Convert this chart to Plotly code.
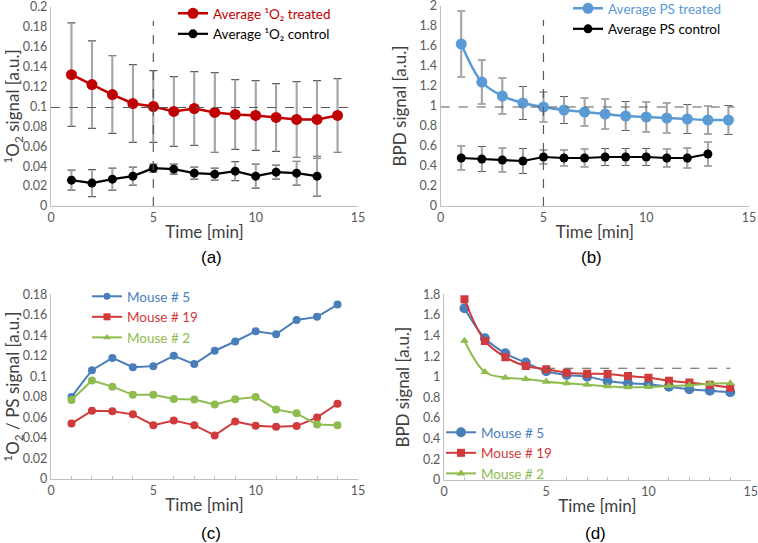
import plotly.graph_objects as go

# ---------------- data ----------------
time_a = list(range(1, 15))
o2_treated = [0.132, 0.122, 0.112, 0.103, 0.100, 0.095, 0.098, 0.094, 0.092, 0.091, 0.089, 0.087, 0.087, 0.091]
o2_treated_err = [0.052, 0.044, 0.039, 0.039, 0.036, 0.035, 0.037, 0.040, 0.035, 0.035, 0.034, 0.038, 0.039, 0.037]
time_ctrl = list(range(1, 14))
o2_control = [0.026, 0.023, 0.027, 0.030, 0.038, 0.037, 0.033, 0.032, 0.035, 0.030, 0.034, 0.033, 0.030]
o2_control_err = [0.010, 0.0135, 0.011, 0.009, 0.004, 0.005, 0.006, 0.006, 0.0095, 0.012, 0.007, 0.012, 0.020]

ps_treated = [1.62, 1.24, 1.10, 1.03, 0.99, 0.96, 0.94, 0.92, 0.90, 0.89, 0.88, 0.87, 0.86, 0.86]
ps_treated_err = [0.33, 0.22, 0.18, 0.165, 0.15, 0.135, 0.14, 0.15, 0.145, 0.15, 0.15, 0.145, 0.14, 0.145]
ps_control = [0.48, 0.47, 0.46, 0.45, 0.49, 0.48, 0.48, 0.49, 0.49, 0.49, 0.48, 0.48, 0.52]
ps_control_err = [0.12, 0.125, 0.12, 0.125, 0.07, 0.08, 0.09, 0.085, 0.085, 0.085, 0.09, 0.10, 0.12]

ratio_m5 = [0.080, 0.106, 0.118, 0.109, 0.110, 0.120, 0.112, 0.125, 0.134, 0.144, 0.141, 0.155, 0.158, 0.170]
ratio_m19 = [0.054, 0.0665, 0.066, 0.063, 0.0525, 0.057, 0.0525, 0.0425, 0.056, 0.052, 0.051, 0.0516, 0.060, 0.0733]
ratio_m2 = [0.077, 0.096, 0.090, 0.082, 0.082, 0.078, 0.0775, 0.0727, 0.0778, 0.080, 0.0678, 0.064, 0.053, 0.0525]

bpd_m5 = [1.665, 1.374, 1.228, 1.138, 1.054, 1.018, 1.002, 0.960, 0.937, 0.928, 0.905, 0.879, 0.866, 0.850]
bpd_m19 = [1.752, 1.348, 1.190, 1.105, 1.073, 1.040, 1.031, 1.028, 1.008, 0.992, 0.963, 0.944, 0.924, 0.895]
bpd_m2 = [1.350, 1.047, 0.992, 0.980, 0.953, 0.937, 0.924, 0.908, 0.898, 0.902, 0.911, 0.918, 0.934, 0.937]

# reference (dashed) lines
ref_a_h, ref_a_x1, ref_a_vx, ref_a_vy1 = 0.099, 14.72, 5, 0.186
ref_b_h, ref_b_x1, ref_b_vx, ref_b_vy1 = 0.99, 14.3, 5, 1.86
ref_d_h, ref_d_x0, ref_d_x1 = 1.083, 5, 14

# ---------------- style ----------------
FONT = "Lato"
TICK = dict(size=12.5, color="#595959", family=FONT)
TITLE = dict(size=17, color="#404040", family=FONT)
AXC = "#bfbfbf"
ERR_DARK = "#595959"
ERR_GRAY = "#a6a6a6"

fig = go.Figure()


def add_err(x, y, err, xa, ya):
    # dark thin bar with caps, then gray thicker stem over it
    fig.add_trace(go.Scatter(x=x, y=y, mode="markers", marker=dict(opacity=0, size=1),
                             error_y=dict(type="data", array=err, color=ERR_DARK, thickness=1.2, width=4),
                             xaxis=xa, yaxis=ya, showlegend=False, hoverinfo="skip"))
    fig.add_trace(go.Scatter(x=x, y=y, mode="markers", marker=dict(opacity=0, size=1),
                             error_y=dict(type="data", array=err, color=ERR_GRAY, thickness=2, width=0),
                             xaxis=xa, yaxis=ya, showlegend=False, hoverinfo="skip"))


# panel (a)
add_err(time_a, o2_treated, o2_treated_err, "x", "y")
add_err(time_ctrl, o2_control, o2_control_err, "x", "y")
fig.add_trace(go.Scatter(x=time_a, y=o2_treated, mode="lines+markers",
                         name="<span style='color:#c00000'>Average ¹O₂ treated</span>",
                         line=dict(color="#c00000", width=2.5), marker=dict(size=11, color="#c00000"),
                         xaxis="x", yaxis="y", legend="legend"))
fig.add_trace(go.Scatter(x=time_ctrl, y=o2_control, mode="lines+markers",
                         name="Average ¹O₂ control",
                         line=dict(color="black", width=2.2), marker=dict(size=9, color="black"),
                         xaxis="x", yaxis="y", legend="legend"))

# panel (b)
add_err(time_a, ps_treated, ps_treated_err, "x2", "y2")
add_err(time_ctrl, ps_control, ps_control_err, "x2", "y2")
fig.add_trace(go.Scatter(x=time_a, y=ps_treated, mode="lines+markers",
                         name="<span style='color:#5b9bd5'>Average PS treated</span>",
                         line=dict(color="#5b9bd5", width=2.5, shape="spline"), marker=dict(size=11, color="#5b9bd5"),
                         xaxis="x2", yaxis="y2", legend="legend2"))
fig.add_trace(go.Scatter(x=time_ctrl, y=ps_control, mode="lines+markers",
                         name="Average PS control",
                         line=dict(color="black", width=2.2), marker=dict(size=9, color="black"),
                         xaxis="x2", yaxis="y2", legend="legend2"))

# panel (c)
C_BLUE, C_RED, C_GREEN = "#4a7ebb", "#d03a3a", "#8fbc4f"
for yv, col in [(ratio_m5, C_BLUE), (ratio_m19, C_RED), (ratio_m2, C_GREEN)]:
    fig.add_trace(go.Scatter(x=time_a, y=yv, mode="lines+markers",
                             line=dict(color=col, width=2), marker=dict(size=8, color=col),
                             xaxis="x3", yaxis="y3", showlegend=False))
for nm, col, sym in [("Mouse # 5", C_BLUE, "circle"), ("Mouse # 19", C_RED, "square"), ("Mouse # 2", C_GREEN, "triangle-up")]:
    fig.add_trace(go.Scatter(x=[None], y=[None], mode="lines+markers",
                             name=f"<span style='color:{col}'>{nm}</span>",
                             line=dict(color=col, width=2), marker=dict(size=7, color=col, symbol=sym),
                             xaxis="x3", yaxis="y3", legend="legend3"))

# panel (d)
for nm, yv, col, sym, sz in [("Mouse # 5", bpd_m5, C_BLUE, "circle", 10),
                             ("Mouse # 19", bpd_m19, C_RED, "square", 8),
                             ("Mouse # 2", bpd_m2, C_GREEN, "triangle-up", 8)]:
    fig.add_trace(go.Scatter(x=time_a, y=yv, mode="lines+markers",
                             name=f"<span style='color:{col}'>{nm}</span>",
                             line=dict(color=col, width=2, shape="spline"),
                             marker=dict(size=sz, color=col, symbol=sym),
                             xaxis="x4", yaxis="y4", legend="legend4"))

# dashed reference lines
dash = dict(color="#595959", width=1.2, dash="dash")
fig.add_shape(type="line", xref="x", yref="y", x0=0, x1=ref_a_x1, y0=ref_a_h, y1=ref_a_h, line=dash)
fig.add_shape(type="line", xref="x", yref="y", x0=ref_a_vx, x1=ref_a_vx, y0=0, y1=ref_a_vy1, line=dash)
fig.add_shape(type="line", xref="x2", yref="y2", x0=0, x1=ref_b_x1, y0=ref_b_h, y1=ref_b_h, line=dash)
fig.add_shape(type="line", xref="x2", yref="y2", x0=ref_b_vx, x1=ref_b_vx, y0=0, y1=ref_b_vy1, line=dash)
fig.add_shape(type="line", xref="x4", yref="y4", x0=ref_d_x0, x1=ref_d_x1, y0=ref_d_h, y1=ref_d_h, line=dash)


def xaxis(domain, anchor, minor=False):
    d = dict(domain=domain, anchor=anchor, range=[0, 15], dtick=5, showgrid=False, zeroline=False,
             showline=True, linecolor=AXC, linewidth=1.3, tickfont=TICK, ticks="", ticklen=0,
             automargin=False, ticklabeloverflow="allow",
             title=dict(text="Time [min]", font=TITLE, standoff=1))
    if minor:
        d["minor"] = dict(dtick=1, ticks="inside", ticklen=3, tickcolor=AXC, showgrid=False)
    return d


def yaxis(domain, anchor, rng, dt, title, standoff):
    return dict(domain=domain, anchor=anchor, range=rng, dtick=dt, showgrid=False, zeroline=False,
                showline=True, linecolor=AXC, linewidth=1.3, tickfont=TICK, ticks="",
                automargin=False, ticklabeloverflow="allow",
                title=dict(text=title, font=TITLE, standoff=standoff))


W, H = 758, 543
ax_dom = [51 / W, 358 / W]
bx_dom = [440.7 / W, 749 / W]
dx_dom = [444 / W, 750.7 / W]
top_dom = [(H - 206) / H, (H - 7) / H]
btop_dom = [(H - 206) / H, (H - 6) / H]
bot_dom = [(H - 479) / H, (H - 294.3) / H]
dbot_dom = [(H - 480) / H, (H - 294.3) / H]

leg_font = dict(size=13.5, family=FONT, color="black")
leg_common = dict(bgcolor="rgba(0,0,0,0)", font=leg_font, xanchor="left", yanchor="top",
                  tracegroupgap=0, itemwidth=30)

fig.update_layout(
    width=W, height=H, margin=dict(l=0, r=0, t=0, b=0, autoexpand=False),
    paper_bgcolor="white", plot_bgcolor="white",
    font=dict(family=FONT),
    xaxis=xaxis(ax_dom, "y"),
    yaxis=yaxis(top_dom, "x", [0, 0.2], 0.02, "<sup>1</sup>O<sub>2</sub> signal [a.u.]", 14),
    xaxis2=xaxis(bx_dom, "y2"),
    yaxis2=yaxis(btop_dom, "x2", [0, 2], 0.2, "BPD signal [a.u.]", 8),
    xaxis3=xaxis(ax_dom, "y3", minor=True),
    yaxis3=yaxis(bot_dom, "x3", [0, 0.18], 0.02, "<sup>1</sup>O<sub>2</sub> / PS signal [a.u.]", 14),
    xaxis4=xaxis(dx_dom, "y4", minor=True),
    yaxis4=yaxis(dbot_dom, "x4", [0, 1.8], 0.2, "BPD signal [a.u.]", 8),
    legend=dict(x=173 / W, y=1 + 2 / H, **leg_common),
    legend2=dict(x=568 / W, y=1 + 7 / H, **leg_common),
    legend3=dict(x=87 / W, y=1 - 281 / H, **leg_common),
    legend4=dict(x=441 / W, y=1 - 417 / H, **leg_common),
    showlegend=True,
)

for txt, xx, yy in [("(a)", 211, 257), ("(b)", 591, 257), ("(c)", 211, 533), ("(d)", 595, 533)]:
    fig.add_annotation(text=txt, x=xx / W, y=1 - yy / H, xref="paper", yref="paper",
                       showarrow=False, font=dict(size=17, family="Liberation Sans", color="black"),
                       xanchor="center", yanchor="middle")

# remove the browser's default 8px body margin so the figure fills the window
fig.write_html("out.html", config={"displayModeBar": False},
               post_script="document.body.style.margin='0';document.body.style.overflow='hidden';")
